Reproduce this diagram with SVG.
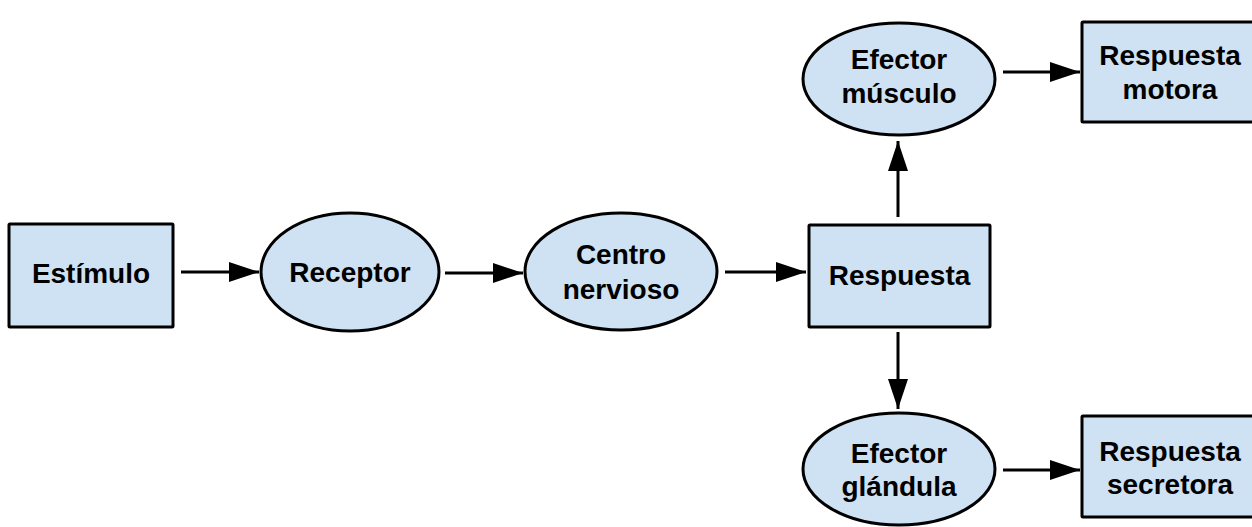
<svg xmlns="http://www.w3.org/2000/svg" width="1252" height="527" viewBox="0 0 1252 527">
  <style>
    .shape { fill: #cfe2f3; stroke: #000; stroke-width: 3; }
    .label { font-family: "Liberation Sans", Arial, sans-serif; font-weight: bold; font-size: 28px; fill: #000; text-anchor: middle; }
    .link { stroke: #000; stroke-width: 3; fill: none; marker-end: url(#head); }
  </style>
  <defs>
    <marker id="head" markerUnits="userSpaceOnUse" markerWidth="32" markerHeight="22" refX="30" refY="10" orient="auto">
      <path d="M0,0 L30,10 L0,20 z" fill="#000"/>
    </marker>
  </defs>

  <rect width="1252" height="527" fill="#fff"/>

  <!-- connectors -->
  <g id="connectors">
    <line class="link" x1="181" y1="272" x2="259" y2="272"/>
    <line class="link" x1="445" y1="273" x2="523" y2="273"/>
    <line class="link" x1="725" y1="272" x2="806" y2="272"/>
    <line class="link" x1="898" y1="217" x2="898" y2="141"/>
    <line class="link" x1="898" y1="332" x2="898" y2="409"/>
    <line class="link" x1="1003" y1="72" x2="1080" y2="72"/>
    <line class="link" x1="1003" y1="470" x2="1080" y2="470"/>
  </g>

  <!-- nodes -->
  <g id="estimulo">
    <rect class="shape" x="9" y="224" width="164" height="103" rx="1"/>
    <text class="label" x="91" y="283">Estímulo</text>
  </g>
  <g id="receptor">
    <ellipse class="shape" cx="350" cy="272" rx="89" ry="59"/>
    <text class="label" x="350" y="282">Receptor</text>
  </g>
  <g id="centro">
    <ellipse class="shape" cx="621" cy="271.5" rx="96" ry="58.5"/>
    <text class="label" x="621" y="264">Centro</text>
    <text class="label" x="621" y="299">nervioso</text>
  </g>
  <g id="respuesta">
    <rect class="shape" x="809" y="225" width="181" height="102" rx="1"/>
    <text class="label" x="899.5" y="285">Respuesta</text>
  </g>
  <g id="efector-musculo">
    <ellipse class="shape" cx="899" cy="79" rx="96" ry="56"/>
    <text class="label" x="899" y="69">Efector</text>
    <text class="label" x="899" y="103">músculo</text>
  </g>
  <g id="respuesta-motora">
    <rect class="shape" x="1082" y="22" width="176" height="100" rx="1"/>
    <text class="label" x="1170" y="65">Respuesta</text>
    <text class="label" x="1170" y="99">motora</text>
  </g>
  <g id="efector-glandula">
    <ellipse class="shape" cx="899" cy="469" rx="96" ry="56"/>
    <text class="label" x="899" y="463">Efector</text>
    <text class="label" x="899" y="496">glándula</text>
  </g>
  <g id="respuesta-secretora">
    <rect class="shape" x="1082" y="416" width="176" height="101" rx="1"/>
    <text class="label" x="1170" y="461">Respuesta</text>
    <text class="label" x="1170" y="494">secretora</text>
  </g>
</svg>
